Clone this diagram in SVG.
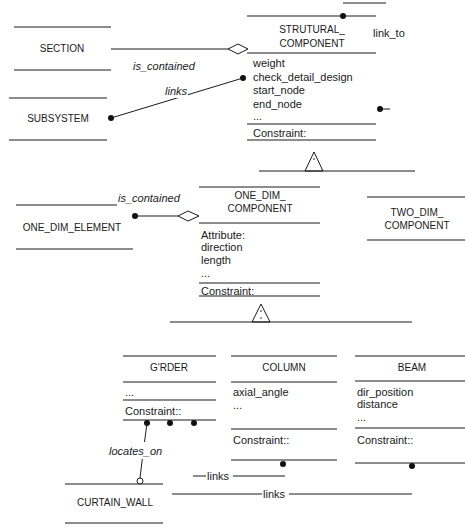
<svg xmlns="http://www.w3.org/2000/svg" width="466" height="528" viewBox="0 0 466 528">
  <style>
    .ln { stroke: #1a1a1a; stroke-width: 1; fill: none; }
    .dot { fill: #111; }
    .hollow { fill: #fff; stroke: #1a1a1a; stroke-width: 1; }
    .name { font-family: "Liberation Sans", Arial, sans-serif; font-size: 10px; fill: #1a1a1a; text-anchor: middle; }
    .attr { font-family: "Liberation Sans", Arial, sans-serif; font-size: 11px; fill: #1a1a1a; }
    .role { font-family: "Liberation Sans", Arial, sans-serif; font-size: 11px; font-style: italic; fill: #1a1a1a; }
    .lbl { font-family: "Liberation Sans", Arial, sans-serif; font-size: 11px; fill: #1a1a1a; }
  </style>
  <rect width="466" height="528" fill="#fff"/>

  <!-- classes -->
  <g id="section">
    <line class="ln" x1="14" y1="27" x2="111" y2="27"/>
    <line class="ln" x1="14" y1="70" x2="111" y2="70"/>
    <text class="name" x="62" y="52">SECTION</text>
  </g>

  <g id="subsystem">
    <line class="ln" x1="9" y1="98" x2="107" y2="98"/>
    <line class="ln" x1="9" y1="140" x2="107" y2="140"/>
    <text class="name" x="58" y="122">SUBSYSTEM</text>
  </g>

  <g id="structural-component">
    <line class="ln" x1="247" y1="16" x2="376" y2="16"/>
    <text class="name" x="312" y="33">STRUTURAL_</text>
    <text class="name" x="312" y="47">COMPONENT</text>
    <line class="ln" x1="247" y1="53" x2="376" y2="53"/>
    <text class="attr" x="253" y="67">weight</text>
    <text class="attr" x="253" y="81">check_detail_design</text>
    <text class="attr" x="253" y="94">start_node</text>
    <text class="attr" x="253" y="108">end_node</text>
    <text class="attr" x="253" y="120">...</text>
    <line class="ln" x1="247" y1="124" x2="376" y2="124"/>
    <text class="attr" x="253" y="137">Constraint:</text>
    <line class="ln" x1="247" y1="140" x2="376" y2="140"/>
  </g>

  <g id="one-dim-element">
    <line class="ln" x1="16" y1="205" x2="117" y2="205"/>
    <line class="ln" x1="16" y1="249" x2="133" y2="249"/>
    <text class="name" x="72" y="231">ONE_DIM_ELEMENT</text>
  </g>

  <g id="one-dim-component">
    <line class="ln" x1="199" y1="187" x2="320" y2="187"/>
    <text class="name" x="260" y="199">ONE_DIM_</text>
    <text class="name" x="260" y="212">COMPONENT</text>
    <line class="ln" x1="199" y1="223" x2="320" y2="223"/>
    <text class="attr" x="201" y="239">Attribute:</text>
    <text class="attr" x="201" y="251">direction</text>
    <text class="attr" x="201" y="264">length</text>
    <text class="attr" x="201" y="277">...</text>
    <line class="ln" x1="199" y1="283" x2="320" y2="283"/>
    <text class="attr" x="201" y="295">Constraint:</text>
    <line class="ln" x1="199" y1="296" x2="320" y2="296"/>
  </g>

  <g id="two-dim-component">
    <line class="ln" x1="367" y1="197" x2="465" y2="197"/>
    <line class="ln" x1="367" y1="240" x2="465" y2="240"/>
    <text class="name" x="417" y="216">TWO_DIM_</text>
    <text class="name" x="417" y="229">COMPONENT</text>
  </g>

  <g id="girder">
    <line class="ln" x1="123" y1="356" x2="216" y2="356"/>
    <text class="name" x="169" y="371">G'RDER</text>
    <line class="ln" x1="123" y1="382" x2="216" y2="382"/>
    <text class="attr" x="125" y="396">...</text>
    <line class="ln" x1="123" y1="400" x2="216" y2="400"/>
    <text class="attr" x="125" y="415">Constraint::</text>
    <line class="ln" x1="123" y1="420" x2="216" y2="420"/>
  </g>

  <g id="column">
    <line class="ln" x1="231" y1="356" x2="337" y2="356"/>
    <text class="name" x="284" y="371">COLUMN</text>
    <line class="ln" x1="231" y1="382" x2="337" y2="382"/>
    <text class="attr" x="233" y="396">axial_angle</text>
    <text class="attr" x="233" y="409">...</text>
    <line class="ln" x1="231" y1="429" x2="337" y2="429"/>
    <text class="attr" x="233" y="444">Constraint::</text>
    <line class="ln" x1="231" y1="460" x2="337" y2="460"/>
  </g>

  <g id="beam">
    <line class="ln" x1="355" y1="356" x2="465" y2="356"/>
    <text class="name" x="412" y="371">BEAM</text>
    <line class="ln" x1="355" y1="381" x2="465" y2="381"/>
    <text class="attr" x="357" y="396">dir_position</text>
    <text class="attr" x="357" y="408">distance</text>
    <text class="attr" x="357" y="421">...</text>
    <line class="ln" x1="355" y1="428" x2="465" y2="428"/>
    <text class="attr" x="357" y="444">Constraint::</text>
    <line class="ln" x1="355" y1="463" x2="465" y2="463"/>
  </g>

  <g id="curtain-wall">
    <line class="ln" x1="65" y1="484" x2="163" y2="484"/>
    <line class="ln" x1="65" y1="523" x2="163" y2="523"/>
    <text class="name" x="115" y="506">CURTAIN_WALL</text>
  </g>

  <!-- associations, generalisations and link ends -->
  <g id="connectors">
    <!-- SECTION is_contained STRUTURAL_COMPONENT -->
    <line class="ln" x1="111" y1="49" x2="228" y2="49"/>
    <polygon class="ln" points="228,49 238,44 248,49 238,54" fill="#fff"/>
    <text class="role" x="133" y="70">is_contained</text>

    <!-- SUBSYSTEM links -->
    <line class="ln" x1="111" y1="118" x2="243" y2="78"/>
    <circle class="dot" cx="111" cy="118" r="3"/>
    <circle class="dot" cx="243" cy="78" r="3"/>
    <rect x="164" y="93" width="24" height="5" fill="#fff"/>
    <text class="role" x="165" y="95">links</text>

    <!-- link_to self association -->
    <line class="ln" x1="343" y1="3" x2="386" y2="3"/>
    <circle class="dot" cx="343" cy="16" r="3"/>
    <text class="lbl" x="373" y="37">link_to</text>
    <line class="ln" x1="380" y1="109" x2="390" y2="109"/>
    <circle class="dot" cx="380" cy="109" r="3"/>

    <!-- generalisation STRUTURAL_COMPONENT -->
    <line class="ln" x1="259" y1="171" x2="415" y2="171"/>
    <polygon class="ln" points="314,152 305,171 323,171" fill="#fff"/>
    <circle class="dot" cx="314" cy="159" r="0.8"/>

    <!-- ONE_DIM_ELEMENT is_contained ONE_DIM_COMPONENT -->
    <line class="ln" x1="135" y1="216" x2="178" y2="216"/>
    <circle class="dot" cx="135" cy="216" r="3"/>
    <polygon class="ln" points="178,216 188,211 199,216 188,221" fill="#fff"/>
    <text class="role" x="118" y="202">is_contained</text>

    <!-- generalisation ONE_DIM_COMPONENT -->
    <line class="ln" x1="170" y1="322" x2="412" y2="322"/>
    <polygon class="ln" points="261,304 252,322 270,322" fill="#fff"/>
    <circle class="dot" cx="261" cy="311" r="0.8"/>
    <circle class="dot" cx="261" cy="318" r="0.8"/>

    <!-- GIRDER link ends -->
    <circle class="dot" cx="147" cy="423" r="3"/>
    <circle class="dot" cx="170" cy="423" r="3"/>
    <circle class="dot" cx="194" cy="423" r="3"/>

    <!-- locates_on -->
    <line class="ln" x1="147" y1="423" x2="144.5" y2="442"/>
    <line class="ln" x1="142.3" y1="459" x2="140" y2="478"/>
    <circle class="hollow" cx="140" cy="481" r="3"/>
    <text class="role" x="109" y="455">locates_on</text>

    <!-- COLUMN and BEAM link ends -->
    <circle class="dot" cx="283" cy="464" r="3"/>
    <circle class="dot" cx="412" cy="466" r="3"/>

    <!-- links -->
    <line class="ln" x1="193" y1="476" x2="206" y2="476"/>
    <text class="lbl" x="207" y="480">links</text>
    <line class="ln" x1="233" y1="476" x2="285" y2="476"/>
    <line class="ln" x1="172" y1="494" x2="262" y2="494"/>
    <text class="lbl" x="263" y="498">links</text>
    <line class="ln" x1="289" y1="494" x2="412" y2="494"/>
  </g>
</svg>
